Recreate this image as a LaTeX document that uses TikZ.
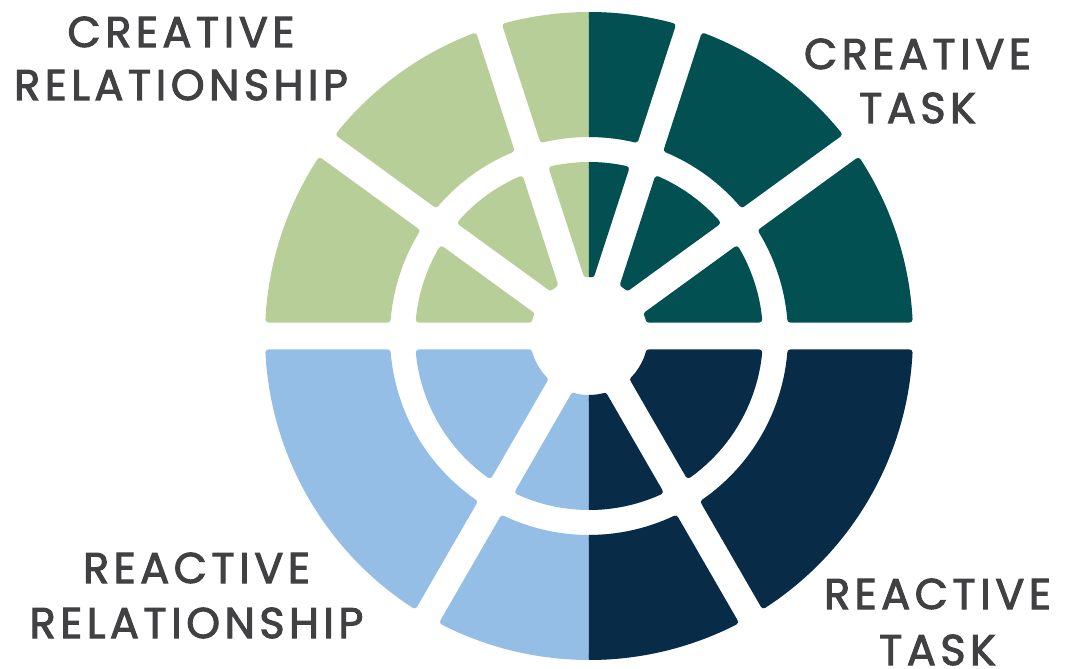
\documentclass[tikz,border=0pt]{standalone}
\usepackage{fontspec}
\setmainfont{Poppins}[FakeBold=2.4,LetterSpace=10.5]
\definecolor{lgreen}{HTML}{B8CE98}
\definecolor{dteal}{HTML}{025051}
\definecolor{lblue}{HTML}{94BEE5}
\definecolor{dnavy}{HTML}{082B48}
\definecolor{txtgray}{HTML}{414042}
% #1 colour, #2 start angle, #3 end angle, #4 inner radius, #5 outer radius, #6 half gap
\newcommand\ringseg[6]{%
  \pgfmathsetmacro\wA{#2+asin((#6)/(#5))}%
  \pgfmathsetmacro\wB{#3-asin((#6)/(#5))}%
  \pgfmathsetmacro\wC{#3-asin((#6)/(#4))}%
  \pgfmathsetmacro\wD{#2+asin((#6)/(#4))}%
  \path[segstyle,fill=#1,draw=#1] (\wA:#5) arc[start angle=\wA,end angle=\wB,radius=#5]
    -- (\wC:#4) arc[start angle=\wC,end angle=\wD,radius=#4] -- cycle;%
}
\tikzset{
  segstyle/.style={line width=6pt,line join=round},
  lbl/.style={font=\fontsize{43}{43}\selectfont,text=txtgray,anchor=base,inner sep=0pt}
}
\begin{document}
\begin{tikzpicture}[x=1pt,y=1pt]
\useasboundingbox (-589,-333) rectangle (482,336);
% outer ring: 202..321, inner ring: 62..171, half gap 16.5 (incl. 3pt rounding)
\def\gp{16.5}
% top half, outer ring
\ringseg{dteal}{0}{36}{202}{321}{\gp}
\ringseg{dteal}{36}{72}{202}{321}{\gp}
\ringseg{lgreen}{72}{108}{202}{321}{\gp}
\begin{scope}\clip (0,0) rectangle (400,400);\ringseg{dteal}{72}{108}{202}{321}{\gp}\end{scope}
\ringseg{lgreen}{108}{144}{202}{321}{\gp}
\ringseg{lgreen}{144}{180}{202}{321}{\gp}
% top half, inner ring
\ringseg{dteal}{0}{36}{62}{171}{\gp}
\ringseg{dteal}{36}{72}{62}{171}{\gp}
\ringseg{lgreen}{72}{108}{62}{171}{\gp}
\begin{scope}\clip (0,0) rectangle (400,400);\ringseg{dteal}{72}{108}{62}{171}{\gp}\end{scope}
\ringseg{lgreen}{108}{144}{62}{171}{\gp}
\ringseg{lgreen}{144}{180}{62}{171}{\gp}
% bottom half, outer ring
\ringseg{lblue}{180}{240}{202}{321}{\gp}
\ringseg{lblue}{240}{300}{202}{321}{\gp}
\begin{scope}\clip (0,0) rectangle (400,-400);\ringseg{dnavy}{240}{300}{202}{321}{\gp}\end{scope}
\ringseg{dnavy}{300}{360}{202}{321}{\gp}
% bottom half, inner ring
\ringseg{lblue}{180}{240}{62}{171}{\gp}
\ringseg{lblue}{240}{300}{62}{171}{\gp}
\begin{scope}\clip (0,0) rectangle (400,-400);\ringseg{dnavy}{240}{300}{62}{171}{\gp}\end{scope}
\ringseg{dnavy}{300}{360}{62}{171}{\gp}
% labels
\node[lbl] (crA) at (-408,289) {CREATIVE};
\node[lbl] (crB) at (-408,236) {RELATIONSHIP};
\node[lbl] (ctA) at (328.5,267) {CREATIVE};
\node[lbl] (ctB) at (328.5,213) {TASK};
\node[lbl] (rrA) at (-392.5,-247) {REACTIVE};
\node[lbl] (rrB) at (-392.5,-302) {RELATIONSHIP};
\node[lbl] (rtA) at (348.5,-273) {REACTIVE};
\node[lbl] (rtB) at (348.5,-329) {TASK};
\end{tikzpicture}
\end{document}
